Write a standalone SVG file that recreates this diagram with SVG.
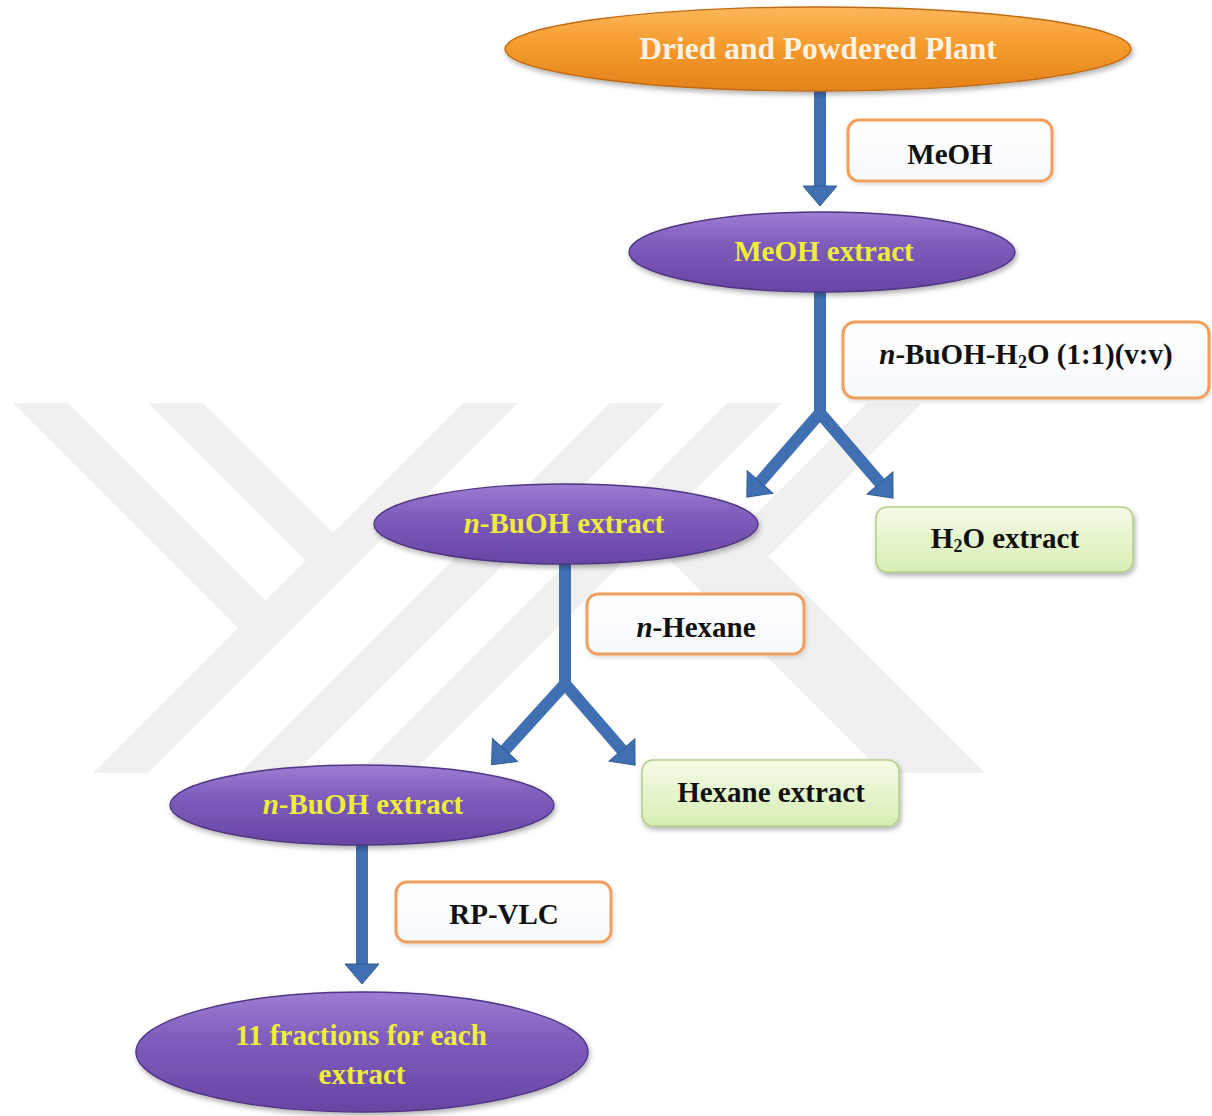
<svg xmlns="http://www.w3.org/2000/svg" width="1212" height="1116" viewBox="0 0 1212 1116">
  <style>
    .wm { fill: #f0f0f0; }
    .lbl { font-family: "Liberation Serif", "Times New Roman", serif; font-weight: bold; font-size: 29px; text-anchor: middle; }
    .dark { fill: #111111; }
    .yel { fill: #eeee38; }
    .title { fill: #fdf3e4; font-size: 31.5px; }
    .it { font-style: italic; }
    .purple { fill: url(#gPurple); stroke: #4f3582; stroke-width: 1.4; filter: url(#shadow); }
    .orange { fill: url(#gOrange); stroke: #c06a12; stroke-width: 1.4; filter: url(#shadow); }
    .step { fill: url(#gWhite); stroke: #f0a05c; stroke-width: 3; filter: url(#softShadow); }
    .result { fill: url(#gGreen); stroke: #b0cf86; stroke-width: 1.5; filter: url(#shadow); }
    .shaft { fill: none; stroke: #4070b2; stroke-width: 12; }
    .arrowed { marker-end: url(#head); }
  </style>
  <defs>
    <linearGradient id="gPurple" x1="0" y1="0" x2="0" y2="1">
      <stop offset="0" stop-color="#9d7ed3"/>
      <stop offset="0.4" stop-color="#7e5cbb"/>
      <stop offset="1" stop-color="#6845a4"/>
    </linearGradient>
    <linearGradient id="gOrange" x1="0" y1="0" x2="0" y2="1">
      <stop offset="0" stop-color="#fbb75a"/>
      <stop offset="0.45" stop-color="#f59b2e"/>
      <stop offset="1" stop-color="#e3821a"/>
    </linearGradient>
    <linearGradient id="gWhite" x1="0" y1="0" x2="0" y2="1">
      <stop offset="0" stop-color="#ffffff"/>
      <stop offset="1" stop-color="#f6f9fd"/>
    </linearGradient>
    <linearGradient id="gGreen" x1="0" y1="0" x2="0" y2="1">
      <stop offset="0" stop-color="#f4fbe6"/>
      <stop offset="1" stop-color="#d8eeb4"/>
    </linearGradient>
    <filter id="shadow" x="-10%" y="-20%" width="120%" height="150%">
      <feDropShadow dx="1.5" dy="3" stdDeviation="2.5" flood-color="#000000" flood-opacity="0.3"/>
    </filter>
    <filter id="softShadow" x="-10%" y="-20%" width="120%" height="150%">
      <feDropShadow dx="1" dy="2" stdDeviation="2" flood-color="#000000" flood-opacity="0.15"/>
    </filter>
    <marker id="head" markerUnits="userSpaceOnUse" viewBox="-1 -19 23 38" refX="0" refY="0" markerWidth="23" markerHeight="38" orient="auto">
      <path d="M0,-17 L20,0 L0,17 Z" fill="#4070b2" stroke="#2f5c94" stroke-width="1"/>
    </marker>
  </defs>

  <rect width="1212" height="1116" fill="#ffffff"/>

  <!-- faint background emblem -->
  <g id="emblem">
    <polygon class="wm" points="13,403 68,403 293,628 238,628"/>
    <polygon class="wm" points="463,403 518,403 148,773 93,773"/>
    <polygon class="wm" points="148,403 203,403 360,560 305,560"/>
    <polygon class="wm" points="610,403 665,403 295,773 240,773"/>
    <polygon class="wm" points="727,403 782,403 412,773 357,773"/>
    <polygon class="wm" points="620,510 675,510 938,773 883,773"/>
    <polygon class="wm" points="867,403 922,403 768.5,556.5 985,773 930,773 713.5,556.5"/>
  </g>

  <!-- flow arrows -->
  <g id="connectors">
    <path class="shaft arrowed" d="M820,88 V186"/>
    <path class="shaft" d="M820,288 V418"/>
    <path class="shaft arrowed" d="M820,413 L760,482"/>
    <path class="shaft arrowed" d="M820,413 L880,483"/>
    <path class="shaft" d="M565,560 V690"/>
    <path class="shaft arrowed" d="M565,684 L505,750"/>
    <path class="shaft arrowed" d="M565,684 L622,750"/>
    <path class="shaft arrowed" d="M362,841 V964"/>
  </g>

  <g id="plant">
    <ellipse class="orange" cx="818" cy="49" rx="313" ry="42"/>
    <text class="lbl title" x="818" y="59">Dried and Powdered Plant</text>
  </g>

  <g id="step-meoh">
    <rect class="step" x="848" y="120" width="204" height="61" rx="11"/>
    <text class="lbl dark" x="950" y="164">MeOH</text>
  </g>

  <g id="meoh-extract">
    <ellipse class="purple" cx="822" cy="252" rx="193" ry="40"/>
    <text class="lbl yel" x="824" y="261">MeOH extract</text>
  </g>

  <g id="step-partition">
    <rect class="step" x="843" y="322" width="366" height="76" rx="12"/>
    <text class="lbl dark" x="1026" y="364"><tspan class="it">n</tspan>-BuOH-H<tspan font-size="18" dy="4">2</tspan><tspan dy="-4">O (1:1)(v:v)</tspan></text>
  </g>

  <g id="buoh-extract-1">
    <ellipse class="purple" cx="566" cy="524" rx="192" ry="40"/>
    <text class="lbl yel" x="564" y="533"><tspan class="it">n</tspan>-BuOH extract</text>
  </g>

  <g id="water-extract">
    <rect class="result" x="876" y="507" width="257" height="65" rx="11"/>
    <text class="lbl dark" x="1005" y="548">H<tspan font-size="18" dy="4">2</tspan><tspan dy="-4">O extract</tspan></text>
  </g>

  <g id="step-hexane">
    <rect class="step" x="587" y="594" width="217" height="60" rx="11"/>
    <text class="lbl dark" x="696" y="637"><tspan class="it">n</tspan>-Hexane</text>
  </g>

  <g id="hexane-extract">
    <rect class="result" x="642" y="760" width="257" height="66" rx="11"/>
    <text class="lbl dark" x="771" y="802">Hexane extract</text>
  </g>

  <g id="buoh-extract-2">
    <ellipse class="purple" cx="362" cy="805" rx="192" ry="40"/>
    <text class="lbl yel" x="363" y="814"><tspan class="it">n</tspan>-BuOH extract</text>
  </g>

  <g id="step-rpvlc">
    <rect class="step" x="396" y="882" width="215" height="60" rx="11"/>
    <text class="lbl dark" x="504" y="924">RP-VLC</text>
  </g>

  <g id="fractions">
    <ellipse class="purple" cx="362" cy="1052" rx="226" ry="60"/>
    <text class="lbl yel" x="361" y="1045">11 fractions for each</text>
    <text class="lbl yel" x="362" y="1084">extract</text>
  </g>
</svg>
